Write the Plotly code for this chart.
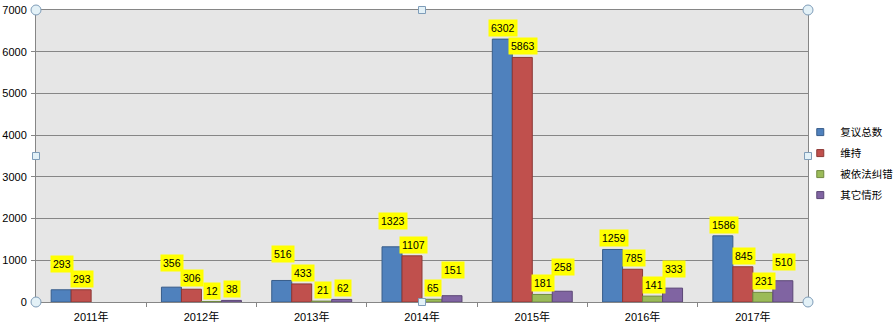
import plotly.graph_objects as go

# Administrative reconsideration cases by year
years = ["2011年", "2012年", "2013年", "2014年", "2015年", "2016年", "2017年"]
series_names = ["复议总数", "维持", "被依法纠错", "其它情形"]
total = [293, 356, 516, 1323, 6302, 1259, 1586]
upheld = [293, 306, 433, 1107, 5863, 785, 845]
corrected = [None, 12, 21, 65, 181, 141, 231]
other = [None, 38, 62, 151, 258, 333, 510]

series_values = [total, upheld, corrected, other]
fill_colors = ["#4F81BD", "#C0504D", "#9BBB59", "#8064A2"]
edge_colors = ["#385D8A", "#8C3836", "#71893F", "#5C4776"]

W, H = 894, 328
margin = dict(l=36, r=86, t=10, b=26, autoexpand=False)
bargap = 0.275

# extra lift (px) for labels nudged upward to avoid overlapping neighbours
label_lift = {(0, 0): 26, (0, 1): 24, (0, 2): 26, (0, 3): 26,
              (3, 3): 26, (3, 4): 24, (3, 5): 19, (3, 6): 19}
default_lift = 11

fig = go.Figure()
for name, vals, fc, ec in zip(series_names, series_values, fill_colors, edge_colors):
    fig.add_trace(go.Bar(
        x=years, y=vals, name=name, showlegend=False, legendgroup=name,
        marker=dict(color=fc, line=dict(color=ec, width=1)),
    ))
# compact square swatches for the legend
for name, fc, ec in zip(series_names, fill_colors, edge_colors):
    fig.add_trace(go.Scatter(
        x=[None], y=[None], name=name, mode="markers", legendgroup=name,
        marker=dict(symbol="square", size=7, color=fc, line=dict(color=ec, width=1)),
    ))

plot_w = W - margin["l"] - margin["r"]
cat_w = plot_w / len(years)
bar_w = cat_w * (1 - bargap) / len(series_names)

annotations = []
for s, vals in enumerate(series_values):
    for i, v in enumerate(vals):
        if v is None:
            continue
        annotations.append(dict(
            x=years[i], y=v, xref="x", yref="y",
            text=str(v), showarrow=False,
            xanchor="center", yanchor="middle",
            xshift=(s - (len(series_names) - 1) / 2) * bar_w + 1,
            yshift=label_lift.get((s, i), default_lift),
            bgcolor="#FFFF00", borderpad=2,
            font=dict(family="Liberation Sans, Arial, sans-serif", size=10.5, color="#000000"),
        ))

# chart-selection handles on the plot-area frame
handle_line = "#7F9DB9"
handle_fill = "#E3F1F7"
shapes = []
for (px, py) in [(0, 0), (1, 0), (0, 1), (1, 1)]:
    shapes.append(dict(type="circle", xref="paper", yref="paper",
                       x0=-5, y0=-5, x1=5, y1=5, xsizemode="pixel", ysizemode="pixel",
                       xanchor=px, yanchor=py,
                       line=dict(color=handle_line, width=1), fillcolor=handle_fill))
for (px, py) in [(0.5, 0), (0.5, 1), (0, 0.5), (1, 0.5)]:
    shapes.append(dict(type="rect", xref="paper", yref="paper",
                       x0=-3.5, y0=-3.5, x1=3.5, y1=3.5, xsizemode="pixel", ysizemode="pixel",
                       xanchor=px, yanchor=py,
                       line=dict(color=handle_line, width=1), fillcolor=handle_fill))

fig.update_layout(
    width=W, height=H,
    margin=margin,
    paper_bgcolor="#FFFFFF",
    plot_bgcolor="#E6E6E6",
    barmode="group", bargap=bargap, bargroupgap=0,
    font=dict(family="Liberation Sans, Noto Sans CJK SC, sans-serif", size=11, color="#000000"),
    legend=dict(
        x=0.99, xanchor="left", y=0.474, yanchor="middle",
        xref="paper", yref="paper",
        font=dict(family="Noto Sans CJK SC, sans-serif", size=10.5),
        itemwidth=30, tracegroupgap=2,
        bgcolor="rgba(0,0,0,0)",
    ),
    annotations=annotations,
    shapes=shapes,
    xaxis=dict(
        type="category", showgrid=False,
        showline=True, linecolor="#868686", linewidth=1, mirror=True,
        ticks="outside", ticklen=4, tickcolor="#868686", tickson="boundaries",
        ticklabelstandoff=5,
        tickfont=dict(family="Liberation Sans, Noto Sans CJK SC, sans-serif", size=11),
    ),
    yaxis=dict(
        range=[0, 7000], dtick=1000, tickformat="d",
        showgrid=True, gridcolor="#868686", gridwidth=1,
        showline=True, linecolor="#868686", linewidth=1, mirror=True,
        ticks="outside", ticklen=4, tickcolor="#868686",
        ticklabelstandoff=2,
        zeroline=False,
        tickfont=dict(family="Liberation Sans, sans-serif", size=11),
    ),
)

fig.write_html("out.html")
